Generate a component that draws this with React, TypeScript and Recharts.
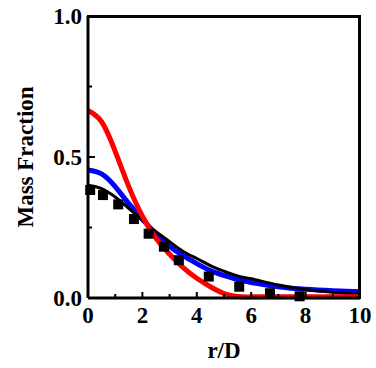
import React from 'react';
import {
  ComposedChart,
  Line,
  Scatter,
  XAxis,
  YAxis
} from 'recharts';

// radial positions used by the model curves
const rGrid = [0, 0.5, 1, 1.5, 2, 2.5, 3, 3.5, 4, 4.5, 5, 5.5, 6, 7, 8, 9, 10];
const redCurve = [0.665, 0.625, 0.52, 0.395, 0.29, 0.212, 0.155, 0.108, 0.07, 0.04, 0.016, 0.005, 0.004, 0.004, 0.004, 0.004, 0.004];
const blueCurve = [0.454, 0.44, 0.395, 0.335, 0.28, 0.225, 0.183, 0.15, 0.122, 0.097, 0.08, 0.065, 0.055, 0.04, 0.031, 0.026, 0.022];
const blackCurve = [0.4, 0.388, 0.358, 0.318, 0.275, 0.235, 0.2, 0.165, 0.14, 0.115, 0.095, 0.078, 0.068, 0.046, 0.03, 0.02, 0.013];

// measured points
const expR = [0.08, 0.55, 1.11, 1.69, 2.23, 2.79, 3.34, 4.44, 5.56, 6.69, 7.78];
const expV = [0.383, 0.365, 0.332, 0.28, 0.228, 0.182, 0.134, 0.076, 0.04, 0.017, 0.006];

const xTicks = [0, 1, 2, 3, 4, 5, 6, 7, 8, 9, 10];
const yTicks = [0, 0.25, 0.5, 0.75, 1];

const FONT = "'Liberation Serif', 'Times New Roman', serif";

const curveData = rGrid.map((r, i) => ({
  r,
  red: redCurve[i],
  blue: blueCurve[i],
  black: blackCurve[i]
}));
const expData = expR.map((r, i) => ({ r, v: expV[i] }));

const isMajorX = (v: number) => v % 2 === 0;
const isMajorY = (v: number) => Math.abs((v * 2) % 1) < 1e-6;

const BottomTick = ({ x, y, payload }: any) => {
  const major = isMajorX(payload.value);
  return (
    <g>
      <line x1={x} y1={y} x2={x} y2={y - (major ? 6 : 4)} stroke="#000" strokeWidth={2} />
      {major && (
        <text x={x} y={y + 25} textAnchor="middle" fontFamily={FONT} fontSize={23} fontWeight="bold" fill="#000">
          {payload.value}
        </text>
      )}
    </g>
  );
};

const LeftTick = ({ x, y, payload }: any) => {
  const major = isMajorY(payload.value);
  return (
    <g>
      <line x1={x} y1={y} x2={x + (major ? 7 : 4)} y2={y} stroke="#000" strokeWidth={2} />
      {major && (
        <text x={x - 6} y={y + 8} textAnchor="end" fontFamily={FONT} fontSize={23} fontWeight="bold" fill="#000">
          {payload.value.toFixed(1)}
        </text>
      )}
    </g>
  );
};

const Square = ({ cx, cy }: any) => (
  <rect x={cx - 5} y={cy - 5} width={10} height={10} fill="#000" />
);

export default function App() {
  const axisLine = { stroke: '#000', strokeWidth: 3 };
  return (
    <div style={{ position: 'absolute', left: 0, top: 0, width: 376, height: 368, background: '#fff' }}>
      <ComposedChart
        width={376}
        height={368}
        data={curveData}
        margin={{ top: 16, right: 16, left: 0, bottom: 0 }}
      >
        <XAxis
          dataKey="r"
          type="number"
          domain={[0, 10]}
          ticks={xTicks}
          interval={0}
          height={70}
          axisLine={axisLine}
          tickLine={false}
          tickSize={0}
          tickMargin={0}
          tick={<BottomTick />}
          label={{
            value: 'r/D',
            position: 'insideBottom',
            offset: 10,
            fill: '#000',
            fontSize: 23,
            fontWeight: 'bold',
            fontFamily: FONT
          }}
        />
        <YAxis
          type="number"
          domain={[0, 1]}
          ticks={yTicks}
          interval={0}
          width={88}
          axisLine={axisLine}
          tickLine={false}
          tickSize={0}
          tickMargin={0}
          tick={<LeftTick />}
          label={{
            value: 'Mass Fraction',
            position: 'insideLeft',
            angle: -90,
            offset: 25,
            fill: '#000',
            fontSize: 23,
            fontWeight: 'bold',
            fontFamily: FONT,
            style: { textAnchor: 'middle' }
          }}
        />
        <Line type="natural" dataKey="blue" stroke="#0000ff" strokeWidth={5} dot={false} isAnimationActive={false} />
        <Line type="natural" dataKey="black" stroke="#000000" strokeWidth={3} dot={false} isAnimationActive={false} />
        <Line type="natural" dataKey="red" stroke="#ff0000" strokeWidth={5} dot={false} isAnimationActive={false} />
        <Scatter data={expData} dataKey="v" fill="#000" shape={<Square />} isAnimationActive={false} />
      </ComposedChart>
      {/* closing frame (top and right borders) over the plot area */}
      <div
        style={{
          position: 'absolute',
          left: 87,
          top: 15,
          width: 274,
          height: 284,
          boxSizing: 'border-box',
          borderTop: '3px solid #000',
          borderRight: '3px solid #000',
          pointerEvents: 'none'
        }}
      />
    </div>
  );
}
